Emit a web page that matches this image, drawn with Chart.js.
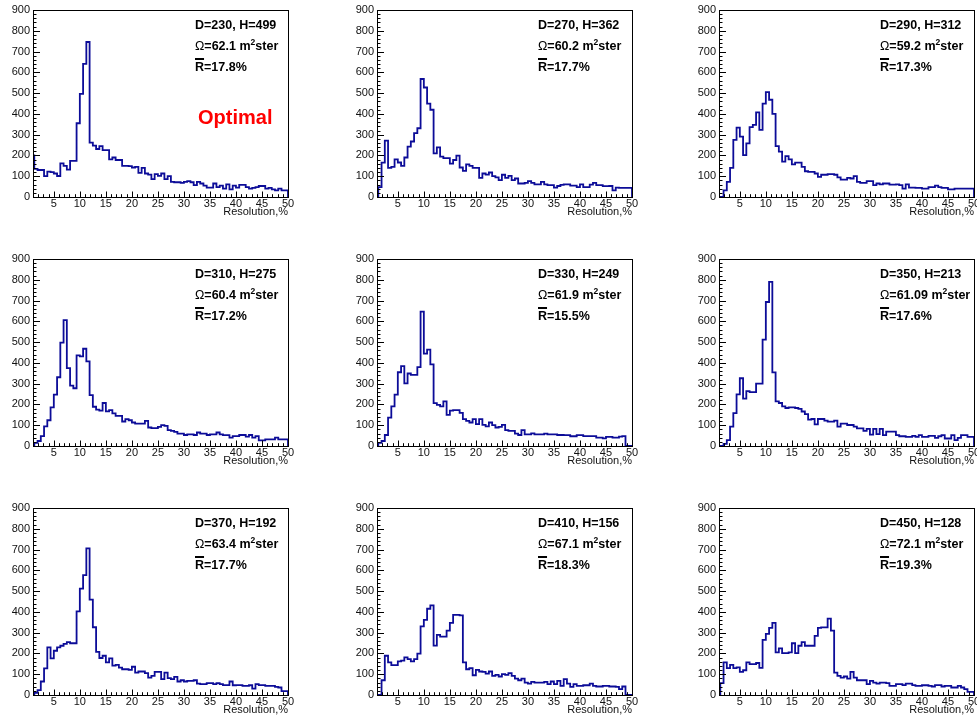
<!DOCTYPE html>
<html>
<head>
<meta charset="utf-8">
<script src="https://cdn.jsdelivr.net/npm/chart.js@4.4.1/dist/chart.umd.min.js"></script>
<style>
  html, body { margin: 0; padding: 0; background: #fff; }
  body { width: 977px; height: 715px; overflow: hidden; position: relative;
         font-family: "Liberation Sans", Arial, Helvetica, sans-serif; }
  canvas.panel { position: absolute; }
  .stat { position: absolute; font-weight: bold; font-size: 12.5px; line-height: 21px;
          color: #000; white-space: nowrap; }
  .stat .om { font-weight: normal; }
  .stat sup { font-size: 8.5px; line-height: 0; vertical-align: 5px; }
  .stat .rbar { text-decoration: overline; text-decoration-thickness: 2px; }
  .optimal { position: absolute; color: #f00; font-weight: bold; font-size: 20px; line-height: 20px; }
</style>
</head>
<body>
<script>
// Histogram binning (80 bins of 0.625% from 0 to 50%) and the shown axis range
const binLow = 0, binHigh = 50;
const axisMin = 1, axisMax = 50;
const xTickValues = [5, 10, 15, 20, 25, 30, 35, 40, 45, 50];
const yTickValues = [0, 100, 200, 300, 400, 500, 600, 700, 800, 900];
const xTitle = 'Resolution,%';

// Per-configuration parameters shown in each panel
const detectorD = [230, 270, 290, 310, 330, 350, 370, 410, 450];
const detectorH = [499, 362, 312, 275, 249, 213, 192, 156, 128];
const acceptance = ['62.1', '60.2', '59.2', '60.4', '61.9', '61.09', '63.4', '67.1', '72.1'];
const meanResolution = ['17.8', '17.7', '17.3', '17.2', '15.5', '17.6', '17.7', '18.3', '19.3'];

// Bin contents
const countsD230 = [0,200,200,135,130,130,100,122,120,113,
  101,162,150,132,174,174,355,496,641,746,
  262,247,231,245,226,226,181,190,178,178,
  150,150,149,142,145,116,140,113,108,86,
  110,102,113,86,100,73,71,71,68,73,
  76,71,57,73,65,55,45,45,65,48,
  55,40,61,37,55,45,58,58,48,40,
  44,48,53,53,40,44,37,32,40,32];
const countsD270 = [0,0,0,48,165,271,140,145,181,166,
  150,190,242,267,307,331,568,527,449,420,
  210,239,194,187,187,161,178,199,142,126,
  157,150,140,140,92,113,108,118,100,94,
  81,107,92,102,81,89,65,65,68,76,
  68,61,61,73,61,57,57,45,53,58,
  61,61,55,55,48,61,48,48,60,68,
  57,57,52,52,53,32,45,44,44,44];
const countsD290 = [0,0,0,0,32,73,140,275,334,291,
  202,258,336,347,407,323,449,505,468,400,
  245,218,170,197,181,157,165,165,145,124,
  121,121,113,97,107,107,110,110,107,94,
  84,84,92,89,100,73,68,68,76,76,
  57,65,61,65,65,60,60,61,57,40,
  61,45,45,44,44,40,40,48,48,55,
  48,44,44,37,37,40,40,40,40,40];
const countsD310 = [0,0,0,15,24,48,94,124,186,247,
  331,498,606,375,291,278,436,431,468,407,
  245,189,175,170,207,167,173,157,145,145,
  118,129,124,113,108,108,108,121,89,86,
  86,92,100,97,76,73,68,60,60,53,
  56,56,53,65,60,60,53,56,56,65,
  56,52,52,40,48,48,53,53,45,53,
  40,48,27,27,32,32,32,40,32,32];
const countsD330 = [0,0,0,15,24,53,137,191,247,355,
  384,301,349,342,342,380,647,445,464,393,
  206,198,191,215,150,170,173,173,159,129,
  121,113,129,105,129,102,94,113,100,89,
  92,102,76,73,73,60,53,76,56,56,
  61,56,56,56,60,56,56,56,53,53,
  52,52,47,47,52,52,48,48,48,48,
  40,40,37,44,44,40,40,45,48,0];
const countsD350 = [0,0,0,0,10,28,93,158,248,326,
  228,264,259,259,300,300,512,693,790,354,
  215,207,191,183,186,186,183,179,166,153,
  127,130,104,130,130,122,117,117,122,93,
  108,108,101,101,93,85,85,73,82,55,
  82,57,82,52,69,69,69,52,47,47,
  44,44,49,44,52,44,44,49,49,39,
  47,52,36,36,52,28,39,52,52,44];
const countsD370 = [0,0,0,10,23,65,128,229,176,213,
  229,237,246,254,249,249,402,512,577,706,
  459,326,208,178,189,157,176,141,145,132,
  124,124,121,136,108,113,113,105,84,92,
  111,111,76,108,81,76,87,65,71,65,
  68,68,71,55,52,52,57,57,52,57,
  52,48,48,65,47,48,48,44,44,47,
  31,52,48,48,44,44,44,39,36,19];
const countsD410 = [0,0,0,0,71,189,157,144,144,162,
  165,181,173,162,173,199,330,362,415,431,
  238,289,281,281,310,347,386,386,383,157,
  124,129,95,121,113,111,103,113,92,97,
  89,100,97,105,92,79,71,79,60,55,
  63,60,60,60,63,52,65,52,68,44,
  76,55,39,52,44,44,47,47,55,44,
  41,41,44,44,41,41,39,28,41,0];
const countsD450 = [0,0,0,57,157,129,145,129,133,111,
  119,157,149,149,154,131,265,294,323,347,
  205,224,202,202,205,249,202,237,254,237,
  237,237,285,323,325,325,368,310,108,92,
  84,89,79,111,84,71,71,71,52,68,
  60,55,60,60,57,44,44,52,52,48,
  55,55,48,44,44,47,47,44,41,48,
  48,41,44,44,36,36,44,36,28,15];

const panelCounts = [countsD230, countsD270, countsD290, countsD310, countsD330,
                     countsD350, countsD370, countsD410, countsD450];

// Page layout of the 3x3 grid (plot-area boxes)
const colLeft = [33, 377, 719];
const colWidth = 255;
const rowTop = [10, 259, 508];
const plotHeight = 187;
const yAxisWidth = 33, xAxisHeight = 22, padTop = 10, padRight = 12;
const statLeft = [195, 538, 880];
const lineColor = '#0c0c98';
const tickFont = { family: '"Liberation Sans", Arial, Helvetica, sans-serif', size: 11 };

// Step outline of a fixed-width histogram
function histogramPoints(counts) {
  const w = (binHigh - binLow) / counts.length;
  const pts = [{ x: binLow, y: 0 }];
  counts.forEach((c, i) => pts.push({ x: binLow + i * w, y: c }));
  pts.push({ x: binHigh, y: counts[counts.length - 1] });
  pts.push({ x: binHigh, y: 0 });
  return pts;
}

// Frame with inward major/minor tick marks
const frameTicks = {
  id: 'frameTicks',
  afterDatasetsDraw(chart) {
    const { ctx, chartArea: a, scales: { x, y } } = chart;
    ctx.save();
    ctx.strokeStyle = '#000';
    ctx.lineWidth = 1;
    ctx.beginPath();
    for (let v = axisMin; v <= axisMax; v += 1) {
      const px = Math.round(x.getPixelForValue(v)) + 0.5;
      const len = v % 5 === 0 ? 5.5 : 2.8;
      ctx.moveTo(px, a.bottom);
      ctx.lineTo(px, a.bottom - len);
    }
    for (let v = 0; v <= 900; v += 20) {
      const py = Math.round(y.getPixelForValue(v)) + 0.5;
      const len = v % 100 === 0 ? 7 : 3.5;
      ctx.moveTo(a.left, py);
      ctx.lineTo(a.left + len, py);
    }
    ctx.stroke();
    ctx.strokeRect(Math.round(a.left) + 0.5, Math.round(a.top) + 0.5,
                   Math.round(a.right - a.left), Math.round(a.bottom - a.top));
    ctx.restore();
  }
};

panelCounts.forEach((counts, idx) => {
  const col = idx % 3, row = Math.floor(idx / 3);
  const canvas = document.createElement('canvas');
  canvas.className = 'panel';
  const w = yAxisWidth + colWidth + padRight;
  const h = padTop + plotHeight + xAxisHeight;
  canvas.width = w; canvas.height = h;
  canvas.style.width = w + 'px'; canvas.style.height = h + 'px';
  canvas.style.left = (colLeft[col] - yAxisWidth) + 'px';
  canvas.style.top = (rowTop[row] - padTop) + 'px';
  document.body.appendChild(canvas);

  new Chart(canvas, {
    type: 'line',
    data: {
      datasets: [{
        data: histogramPoints(counts),
        stepped: 'after',
        borderColor: lineColor,
        borderWidth: 1.8,
        pointRadius: 0,
        fill: false,
        tension: 0
      }]
    },
    options: {
      responsive: false,
      animation: false,
      devicePixelRatio: 1,
      layout: { padding: { left: 0, right: padRight, top: padTop, bottom: 0 } },
      plugins: { legend: { display: false }, tooltip: { enabled: false } },
      scales: {
        x: {
          type: 'linear', min: axisMin, max: axisMax,
          afterBuildTicks: s => { s.ticks = xTickValues.map(v => ({ value: v })); },
          afterFit: s => { s.height = xAxisHeight; s.paddingLeft = 0; s.paddingRight = 0; },
          grid: { display: false, drawTicks: false },
          border: { display: false },
          ticks: { font: tickFont, color: '#111', padding: 0, maxRotation: 0, autoSkip: false },
          title: { display: true, text: xTitle, align: 'end', color: '#111',
                   font: tickFont, padding: { top: 0, bottom: 0 } }
        },
        y: {
          type: 'linear', min: 0, max: 900,
          afterBuildTicks: s => { s.ticks = yTickValues.map(v => ({ value: v })); },
          afterFit: s => { s.width = yAxisWidth; s.paddingTop = 0; s.paddingBottom = 0; },
          grid: { display: false, drawTicks: false },
          border: { display: false },
          ticks: { font: tickFont, color: '#111', padding: 3 }
        }
      }
    },
    plugins: [frameTicks]
  });

  const stat = document.createElement('div');
  stat.className = 'stat';
  stat.style.left = statLeft[col] + 'px';
  stat.style.top = (rowTop[row] + 5) + 'px';
  stat.innerHTML =
    '<div>D=' + detectorD[idx] + ', H=' + detectorH[idx] + '</div>' +
    '<div><span class="om">\u03A9</span>=' + acceptance[idx] + ' m<sup>2</sup>ster</div>' +
    '<div><span class="rbar">R</span>=' + meanResolution[idx] + '%</div>';
  document.body.appendChild(stat);
});

// Label marking the chosen configuration
const optimal = document.createElement('div');
optimal.className = 'optimal';
optimal.textContent = 'Optimal';
optimal.style.left = '198px';
optimal.style.top = '107px';
document.body.appendChild(optimal);
</script>
</body>
</html>
